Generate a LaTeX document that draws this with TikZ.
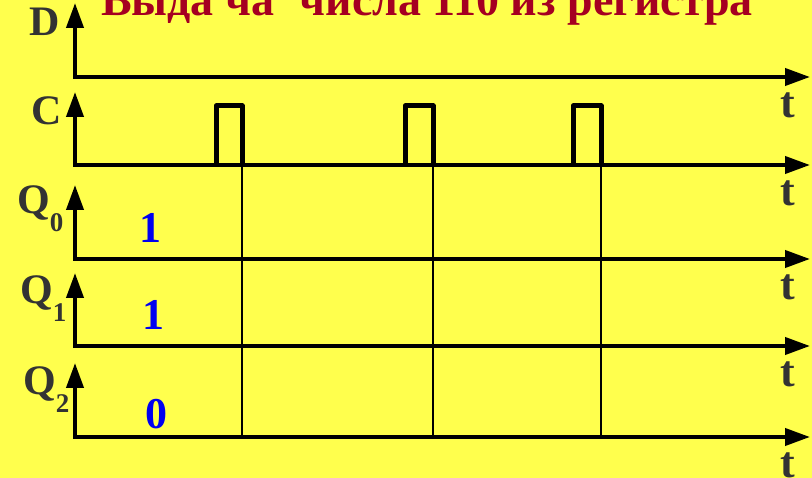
\documentclass[tikz,border=0pt]{standalone}
\usepackage{fontspec}
\setmainfont{Liberation Serif}
\usetikzlibrary{arrows.meta}
\definecolor{paper}{HTML}{FFFF4D}
\definecolor{titlered}{HTML}{A50021}
\definecolor{ink}{HTML}{333333}
\definecolor{bitblue}{HTML}{0000F0}
\tikzset{
  axis/.style={line width=4pt,{Triangle[length=25pt,width=17pt]}-{Triangle[length=25pt,width=17pt]}},
  pulse/.style={line width=5pt,line join=round},
  strobe/.style={line width=2pt},
  sig/.style={font=\fontsize{42}{42}\selectfont\bfseries,text=ink,inner sep=0pt},
  tlbl/.style={font=\fontsize{44}{44}\selectfont\bfseries,text=ink,inner sep=0pt,anchor=base},
  bitval/.style={font=\fontsize{44}{44}\selectfont\bfseries,text=bitblue,inner sep=0pt,anchor=base},
  headline/.style={font=\fontsize{46}{46}\selectfont\bfseries,text=titlered,inner sep=0pt,anchor=base}}
\newcommand{\qsig}[1]{Q\raisebox{-18pt}{\fontsize{27}{27}\selectfont #1}}

\begin{document}
\begin{tikzpicture}[x=1pt,y=-1pt]
  \useasboundingbox (0,0) rectangle (812,478);
  \fill[paper] (0,0) rectangle (812,478);
  \node[headline] (title) at (427,16) {Выда ча\hspace{14pt} числа 110 из регистра};
  % time axes
  \foreach \name/\yb/\yt in {d/77/3, c/165/92, q0/259/185, q1/346/273, q2/437/363} {
    \coordinate (\name-o) at (75,\yb);
    \coordinate (\name-y) at (75,\yt);
    \coordinate (\name-x) at (810,\yb);
    \draw[axis] (\name-y) -- (\name-o) -- (\name-x);
    \node[tlbl] (\name-t) at (788,\yb+41) {t};
  }
  % clock pulses and strobes
  \foreach \a/\b in {216/242, 405/433, 573/601} {
    \coordinate (fall) at (\b,165);
    \draw[pulse] (\a,165) -- (\a,106) -- (\b,106) -- (fall);
    \draw[strobe] (fall) -- (fall |- q2-o);
  }
  \node[sig,anchor=base] (lblD) at (45,36) {D};
  \node[sig,anchor=base] (lblC) at (47,125) {C};
  \node[sig,anchor=base west] (lblQ0) at (17,214) {\qsig{0}};
  \node[sig,anchor=base west] (lblQ1) at (20,304) {\qsig{1}};
  \node[sig,anchor=base west] (lblQ2) at (23,395) {\qsig{2}};
  \node[bitval] (bitQ0) at (150,243) {1};
  \node[bitval] (bitQ1) at (153,330) {1};
  \node[bitval] (bitQ2) at (156,429) {0};
\end{tikzpicture}
\end{document}
